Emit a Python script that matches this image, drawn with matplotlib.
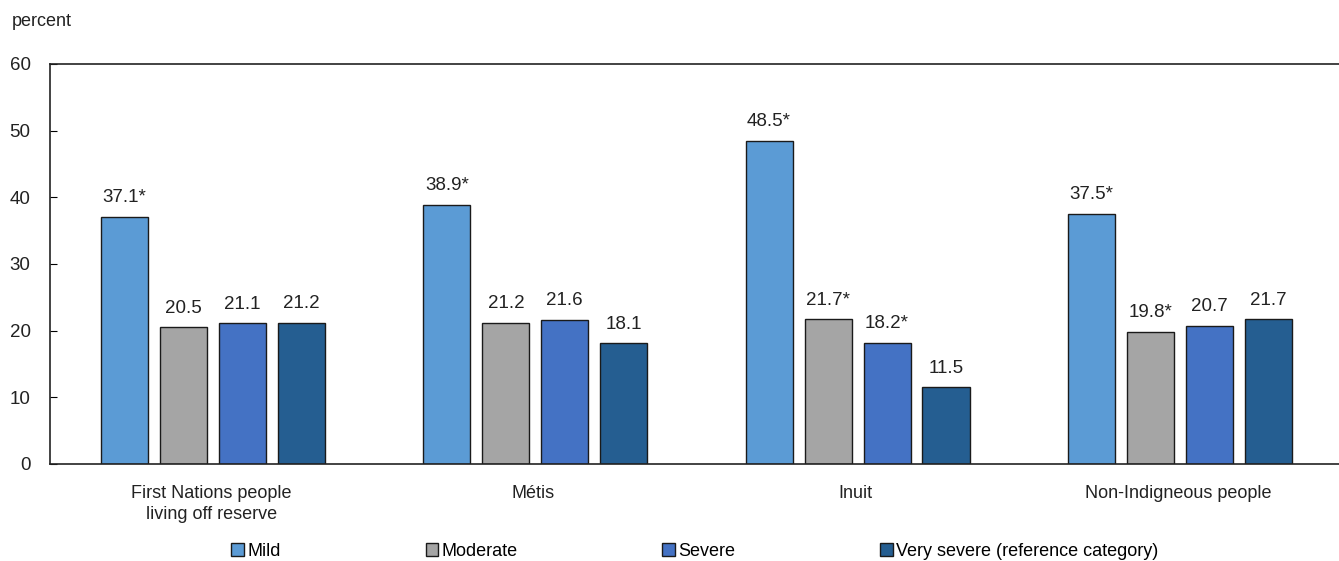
import numpy as np
import matplotlib.pyplot as plt
from matplotlib.patches import Patch

plt.rcParams['font.family'] = ['Liberation Sans', 'DejaVu Sans']

groups = ['First Nations people\nliving off reserve', 'Métis', 'Inuit', 'Non-Indigneous people']
series = ['Mild', 'Moderate', 'Severe', 'Very severe (reference category)']
mild = [37.1, 38.9, 48.5, 37.5]
moderate = [20.5, 21.2, 21.7, 19.8]
severe = [21.1, 21.6, 18.2, 20.7]
very_severe = [21.2, 18.1, 11.5, 21.7]
labels = [['37.1*', '38.9*', '48.5*', '37.5*'],
          ['20.5', '21.2', '21.7*', '19.8*'],
          ['21.1', '21.6', '18.2*', '20.7'],
          ['21.2', '18.1', '11.5', '21.7']]
colors = ['#5B9BD5', '#A5A5A5', '#4472C4', '#255E91']

fig = plt.figure(figsize=(13.39, 5.61), dpi=100)
ax = fig.add_axes([50/1339, 1-464/561, 1-50/1339, 400/561])

x = np.arange(len(groups))
w = 0.146
step = 0.183
for i, vals in enumerate([mild, moderate, severe, very_severe]):
    pos = x + (i - 1.5)*step + 0.006
    ax.bar(pos, vals, width=w, color=colors[i], edgecolor='#1a1a1a', linewidth=1)
    for p, v, t in zip(pos, vals, labels[i]):
        ax.text(p, v + 1.6, t, ha='center', va='bottom', fontsize=13.5, color='#222222')

ax.set_xlim(-0.5, 3.5)
ax.set_ylim(0, 60)
ax.set_yticks(range(0, 61, 10))
ax.set_xticks(x)
ax.set_xticklabels(groups, fontsize=13, color='#222222', linespacing=1.3)
ax.tick_params(axis='x', length=0, pad=15)
ax.tick_params(axis='y', direction='in', length=5, labelsize=13.5, pad=14, labelcolor='#222222')
ax.spines['right'].set_visible(False)
for s in ['left', 'bottom', 'top']:
    ax.spines[s].set_color('#222222')
    ax.spines[s].set_linewidth(1.2)

fig.text(12/1339, 1-22/561, 'percent', fontsize=13, color='#222222', va='center')

handles = [Patch(facecolor=c, edgecolor='#1a1a1a', linewidth=1) for c in colors]
fig.legend(handles, series, loc='center', bbox_to_anchor=(695/1339, 1-551/561),
           ncol=4, frameon=False, fontsize=13, handlelength=0.7, handleheight=0.7,
           handletextpad=0.2, columnspacing=8.0, borderpad=0)

fig.savefig('out.png', dpi=100)
